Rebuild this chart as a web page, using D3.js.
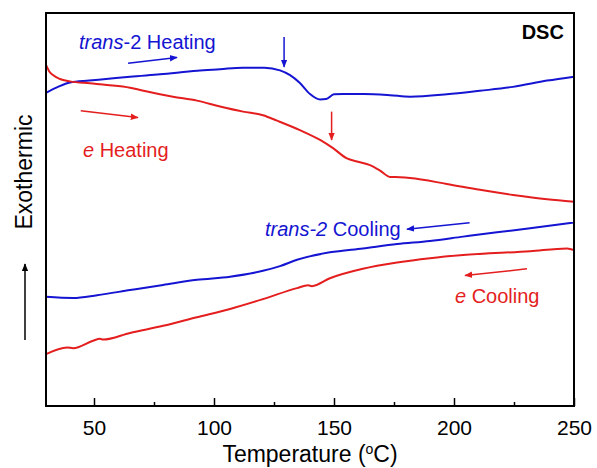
<!DOCTYPE html>
<html>
<head>
<meta charset="utf-8">
<script src="https://cdn.jsdelivr.net/npm/d3@7"></script>
<style>
  body { margin: 0; background: #fff; }
  svg text { font-family: Arial, "Liberation Sans", sans-serif; }
</style>
</head>
<body>
<div id="dsc-plot"></div>
<script>
// trans-2 heating (blue, top)
const heatBlueT = [30, 35, 40, 48, 55, 65, 77.5, 93, 102.5, 112, 121, 127.5, 131.7, 135.8, 140, 144.2, 146.7, 150, 153.8, 162.5, 173.3, 181.7, 197, 210.8, 224.6, 238.8, 250];
const heatBlueV = [79.7, 81.2, 82.3, 82.8, 83.2, 83.8, 84.4, 85.3, 85.7, 86.1, 86.1, 85.4, 84.2, 82.2, 79.4, 78.0, 78.1, 79.3, 79.4, 79.4, 79.1, 78.7, 79.3, 80.2, 81.2, 82.8, 83.8];

// e heating (red, top)
const heatRedT = [30, 31.3, 32.9, 35.8, 40, 48.3, 55.4, 65, 69.2, 82.9, 92.9, 102.5, 112.1, 120.4, 126.3, 135.8, 144.2, 149.6, 155.4, 159.6, 165, 169.2, 173.3, 177.5, 181.7, 197, 210.8, 224.6, 238.8, 250];
const heatRedV = [86.8, 85.2, 84.2, 83.2, 82.6, 82.1, 81.7, 81.0, 80.4, 78.7, 77.7, 76.2, 74.9, 74.0, 72.6, 70.2, 67.7, 65.6, 63.0, 62.2, 61.3, 59.9, 58.3, 58.2, 58.0, 56.5, 55.0, 53.7, 52.6, 52.0];

// trans-2 cooling (blue, bottom)
const coolBlueT = [30, 41.3, 51.3, 65, 78.8, 92.9, 106.7, 120.4, 127.5, 134.6, 148.3, 162, 176.3, 190, 203.8, 217.9, 231.7, 250];
const coolBlueV = [27.8, 27.5, 28.2, 29.5, 30.8, 32.1, 32.9, 34.4, 35.6, 37.2, 39.1, 40.1, 41.2, 42.0, 43.1, 44.2, 45.2, 46.7];

// e cooling (red, bottom)
const coolRedT = [30, 38.8, 41.3, 49.6, 52.5, 53.8, 65, 78.8, 92.9, 106.7, 120.4, 134.6, 139.2, 140.8, 148.3, 162, 176.3, 190, 203.8, 231.7, 247.1, 250];
const coolRedV = [13.2, 14.9, 14.7, 16.6, 17.1, 16.9, 18.6, 20.4, 22.6, 24.7, 27.2, 30.0, 30.7, 30.5, 32.5, 34.9, 36.5, 37.6, 38.4, 39.4, 40.1, 39.7];

const majorTicks = [50, 100, 150, 200, 250];
const minorTicks = [75, 125, 175, 225];

const width = 597, height = 468;
const margin = {left: 46, right: 23, top: 13, bottom: 62};
const blue = "#1414d2", red = "#e41e1e";

const svg = d3.select("#dsc-plot").append("svg")
    .attr("width", width)
    .attr("height", height);

const x = d3.scaleLinear().domain([30, 250]).range([margin.left, width - margin.right]);
const y = d3.scaleLinear().domain([0, 100]).range([height - margin.bottom, margin.top]);

const defs = svg.append("defs");
[["head-blue", blue], ["head-red", red], ["head-black", "#000"]].forEach(([id, c]) => {
    defs.append("marker")
        .attr("id", id)
        .attr("viewBox", "0 0 10 10")
        .attr("refX", 9).attr("refY", 5)
        .attr("markerWidth", 8).attr("markerHeight", 8)
        .attr("markerUnits", "userSpaceOnUse")
        .attr("orient", "auto")
        .append("path")
        .attr("d", "M0,1 L10,5 L0,9 Z")
        .attr("fill", c);
});

const line = d3.line()
    .x(d => x(d[0]))
    .y(d => y(d[1]))
    .curve(d3.curveMonotoneX);

const series = [
    [heatBlueT, heatBlueV, blue],
    [heatRedT, heatRedV, red],
    [coolBlueT, coolBlueV, blue],
    [coolRedT, coolRedV, red]
];

svg.selectAll("path.curve")
    .data(series)
    .enter()
    .append("path")
    .attr("class", "curve")
    .attr("d", s => line(d3.zip(s[0], s[1])))
    .attr("fill", "none")
    .attr("stroke", s => s[2])
    .attr("stroke-width", 2);

// frame
svg.append("rect")
    .attr("x", x(30))
    .attr("y", y(100))
    .attr("width", x(250) - x(30))
    .attr("height", y(0) - y(100))
    .attr("fill", "none")
    .attr("stroke", "#000")
    .attr("stroke-width", 2);

const xAxis = svg.append("g")
    .attr("transform", `translate(0,${y(0)})`)
    .call(d3.axisBottom(x).tickValues(majorTicks).tickSize(-8).tickPadding(14));
xAxis.select(".domain").remove();
xAxis.selectAll("line").attr("stroke-width", 1.5);
xAxis.selectAll("text")
    .style("font-family", "Arial, 'Liberation Sans', sans-serif")
    .style("font-size", "21px")
    .attr("fill", "#000");

const xMinor = svg.append("g")
    .attr("transform", `translate(0,${y(0)})`)
    .call(d3.axisBottom(x).tickValues(minorTicks).tickSize(-4).tickFormat(""));
xMinor.select(".domain").remove();
xMinor.selectAll("line").attr("stroke-width", 1.5);

// axis titles
const xTitle = svg.append("text")
    .attr("x", (x(30) + x(250)) / 2)
    .attr("y", 462)
    .attr("text-anchor", "middle")
    .style("font-size", "23px");
xTitle.append("tspan").text("Temperature (");
xTitle.append("tspan").attr("dy", -8).style("font-size", "14px").text("o");
xTitle.append("tspan").attr("dy", 8).text("C)");

svg.append("text")
    .attr("transform", `translate(32,172) rotate(-90)`)
    .attr("text-anchor", "middle")
    .style("font-size", "23px")
    .text("Exothermic");

svg.append("line")
    .attr("x1", 25).attr("y1", 340)
    .attr("x2", 25).attr("y2", 264)
    .attr("stroke", "#000")
    .attr("stroke-width", 1.5)
    .attr("marker-end", "url(#head-black)");

// annotations (data coordinates)
const arrows = [
    {from: [64.2, 87.2], to: [84.6, 88.7], c: "blue"},
    {from: [129.2, 93.9], to: [129.2, 86.3], c: "blue"},
    {from: [44.5, 75.1], to: [68.3, 73.4], c: "red"},
    {from: [149, 74.9], to: [149, 67.7], c: "red"},
    {from: [206.5, 46.6], to: [180.4, 45.0], c: "blue"},
    {from: [230.4, 34.9], to: [204.6, 33.2], c: "red"}
];

svg.selectAll("line.ann")
    .data(arrows)
    .enter()
    .append("line")
    .attr("class", "ann")
    .attr("x1", d => x(d.from[0])).attr("y1", d => y(d.from[1]))
    .attr("x2", d => x(d.to[0])).attr("y2", d => y(d.to[1]))
    .attr("stroke", d => d.c === "blue" ? blue : red)
    .attr("stroke-width", 1.5)
    .attr("marker-end", d => `url(#head-${d.c})`);

const labels = [
    {t: 43.75, v: 90.8, c: blue, parts: [["trans", true], ["-2 Heating", false]]},
    {t: 45.4, v: 63.4, c: red, parts: [["e", true], [" Heating", false]]},
    {t: 121.25, v: 43.3, c: blue, parts: [["trans-2", true], [" Cooling", false]]},
    {t: 200.4, v: 26.2, c: red, parts: [["e", true], [" Cooling", false]]}
];

labels.forEach(l => {
    const txt = svg.append("text")
        .attr("x", x(l.t))
        .attr("y", y(l.v))
        .attr("fill", l.c)
        .style("font-size", "20px");
    l.parts.forEach(p => {
        txt.append("tspan")
            .style("font-style", p[1] ? "italic" : "normal")
            .text(p[0]);
    });
});

svg.append("text")
    .attr("x", x(245.8))
    .attr("y", y(93.4))
    .attr("text-anchor", "end")
    .style("font-size", "20px")
    .style("font-weight", "bold")
    .text("DSC");
</script>
</body>
</html>
